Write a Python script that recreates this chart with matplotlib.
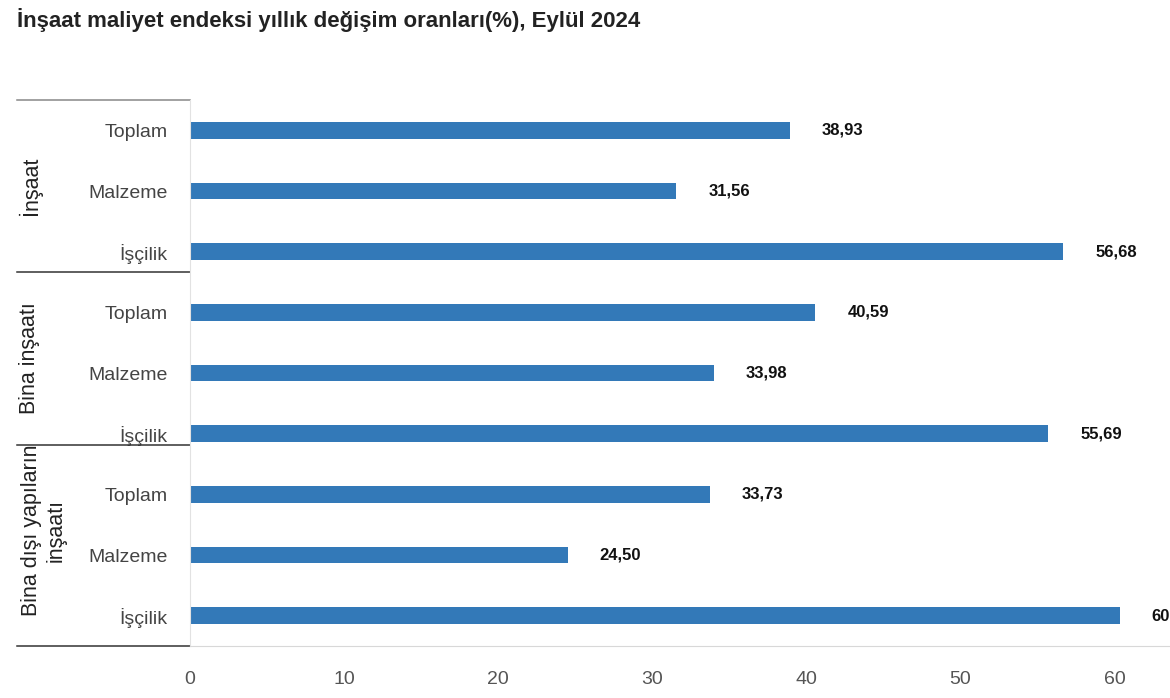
import matplotlib
matplotlib.use("Agg")
import matplotlib.pyplot as plt
import matplotlib.transforms as mtransforms

plt.rcParams['font.family'] = ['Liberation Sans', 'DejaVu Sans']

title = "İnşaat maliyet endeksi yıllık değişim oranları(%), Eylül 2024"
groups = ["İnşaat", "Bina inşaatı", "Bina dışı yapıların\ninşaatı"]
subcats = ["Toplam", "Malzeme", "İşçilik"]
values = [38.93, 31.56, 56.68, 40.59, 33.98, 55.69, 33.73, 24.50, 60.33]
xticks = [0, 10, 20, 30, 40, 50, 60]

labels = [s for g in groups for s in subcats]
n = len(labels)

fig = plt.figure(figsize=(11.70, 6.98), dpi=100)
ax = fig.add_axes([190/1170, 52/698, 980/1170, 546/698])

ypos = list(range(n))
ax.barh(ypos, values, height=0.28, color='#3379b8', zorder=2)
ax.set_ylim(n - 0.5, -0.5)
ax.set_xlim(0, 63.6)

ax.set_yticks(ypos)
ax.set_yticklabels(labels, fontsize=14, color='#444444')
ax.tick_params(axis='y', length=0, pad=16)
ax.set_xticks(xticks)
ax.set_xticklabels([str(t) for t in xticks], fontsize=14, color='#555555')
ax.tick_params(axis='x', length=0, pad=18)

for side in ['top', 'right']:
    ax.spines[side].set_visible(False)
ax.spines['left'].set_color('#e2e2e2')
ax.spines['bottom'].set_color('#d8d8d8')

for y, v in zip(ypos, values):
    ax.annotate(f"{v:.2f}".replace('.', ','), xy=(v, y), xytext=(23, 0),
                textcoords='offset points', ha='left', va='center',
                fontsize=12, fontweight='bold', color='#111111',
                annotation_clip=False)

# separator positions in axes fraction (from top), matching layout
px_top, px_h = 100, 546
sep_px = [100, 272, 445, 646]
sep_ax = [1 - (p - px_top) / px_h for p in sep_px]
x0 = (17 - 190) / 980
for i, b in enumerate(sep_ax):
    col = '#888888' if i == 0 else '#333333'
    ax.plot([x0, 0], [b, b], transform=ax.transAxes, color=col, lw=1.1,
            clip_on=False)

label_px = [(186, 30), (358, 30), (530, 44)]
for g, (py, pxx) in zip(groups, label_px):
    ax.text((pxx - 190) / 980, 1 - (py - px_top) / px_h, g,
            transform=ax.transAxes, rotation=90, ha='center', va='center',
            fontsize=15.5, color='#222222', multialignment='center',
            linespacing=1.25)

fig.text(17/1170, 1 - 20/698, title, ha='left', va='center', fontsize=16,
         fontweight='bold', color='#222222')

fig.savefig('out.png', dpi=100)
